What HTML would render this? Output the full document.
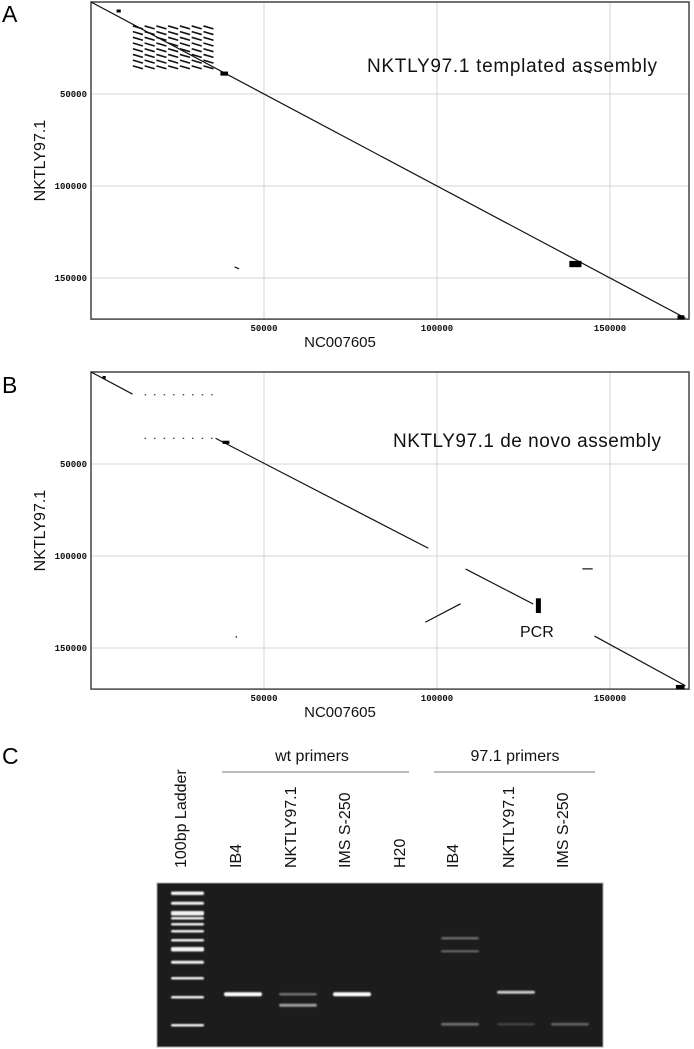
<!DOCTYPE html>
<html><head><meta charset="utf-8"><style>
body{margin:0;background:#fff;width:694px;height:1049px;overflow:hidden;font-family:"Liberation Sans",sans-serif}
svg{position:absolute;left:0;top:0}
.tick{font-family:"Liberation Mono",monospace;font-size:9px;font-weight:bold;fill:#111}
.lab{font-size:16px;fill:#111}
</style></head><body>
<svg id="s" width="694" height="1049">
<defs><filter id="blur" x="-20%" y="-100%" width="140%" height="300%"><feGaussianBlur stdDeviation="0.9"/></filter></defs>
<text x="2" y="22" font-size="23">A</text>
<text x="2" y="393" font-size="23">B</text>
<text x="2" y="764" font-size="23">C</text>
<g id="gA"></g>
<g id="gB"></g>
<text x="367" y="72" font-size="19" fill="#111" textLength="290">NKTLY97.1 templated assembly</text>
<text x="393" y="447" font-size="19" fill="#111" textLength="268">NKTLY97.1 de novo assembly</text>
<text x="520" y="637" font-size="16" fill="#111">PCR</text>
<g id="gC">
<text x="312" y="761" text-anchor="middle" class="lab">wt primers</text>
<line x1="222" y1="772" x2="409" y2="772" stroke="#777" stroke-width="1"/>
<text x="515" y="761" text-anchor="middle" class="lab">97.1 primers</text>
<line x1="434" y1="772" x2="595" y2="772" stroke="#777" stroke-width="1"/>
<rect x="157" y="883" width="446" height="164" fill="#1c1c1c" stroke="#aaa"/>
</g>
</svg>
<script>
// ---- data ----
const xTicks=[50000,100000,150000];
const yTicks=[50000,100000,150000];
const genomeLen=171800;
// panel A segments [x1,y1,x2,y2]
const segA=[[0,0,171800,171800]];
const hatchRowsY=[13000,16100,19200,22300,25400,28500,31600,34700];
const hatchColsX=[12100,15500,18900,22300,25700,29100,32500];
const blobsA=[[8000,4500,1200,800],[38500,38500,2200,1400],[140000,142000,3500,2600],[170500,171000,2000,1500]];
const smallA=[[41500,144000,42800,145000],[143000,37500,144500,38500]];
// panel B segments
const segB=[[0,0,12000,12000],[36000,36000,97500,95800],[108300,107100,127800,126100],[106800,126000,96600,136000],[142000,107000,145000,107000],[145500,143500,171800,170500],[41800,143800,42200,144200]];
const dotRowsB=[12300,36000];
const dotColsB=[15500,18200,21000,23700,26500,29200,32000,34700];
const pcrBar=[129300,123000,131000];
const blobsB=[[170300,170800,2500,1500],[39000,37800,2000,900],[3800,2500,900,700]];
// gel
const ladderY=[893,903,913,918,924,931,940,949,962,978,997,1025];
const ladderW=[3,2.5,4,2,2,2,2,4,2.5,2,2,2];
const laneX=[188,243,298,352,407,460,516,570];
const laneNames=["100bp Ladder","IB4","NKTLY97.1","IMS S-250","H20","IB4","NKTLY97.1","IMS S-250"];
const bands=[[1,994,1,3.5],[2,994,0.35,2],[2,1005,0.55,2.5],[3,994,1,3.5],[6,992,0.75,2.5],[5,938,0.3,2],[5,951,0.25,2],[5,1024,0.3,2.5],[7,1024,0.25,2.5],[6,1024,0.12,2]];
// ---- drawing ----
const NS="http://www.w3.org/2000/svg";
function el(p,t,a){const e=document.createElementNS(NS,t);for(const k in a)e.setAttribute(k,a[k]);p.appendChild(e);return e;}
function panel(g,top,name){
  const X=v=>91+v*0.00346, Y=v=>top+v*0.00184;
  const bottom=Y(genomeLen)+1;
  xTicks.forEach(t=>{const l=el(g,'line',{x1:X(t),x2:X(t),y1:top,y2:bottom,stroke:'#d4d4d4'});
    
    const tx=el(g,'text',{x:X(t),y:bottom+12,'text-anchor':'middle',class:'tick'});tx.textContent=t;
    });
  yTicks.forEach(t=>{const l=el(g,'line',{x1:91,x2:689,y1:Y(t),y2:Y(t),stroke:'#d4d4d4'});
    
    const tx=el(g,'text',{x:87,y:Y(t)+3,'text-anchor':'end',class:'tick'});tx.textContent=t;
    });
  const r=el(g,'rect',{x:91,y:top,width:598,height:bottom-top,fill:'none',stroke:'#444','stroke-width':1.5});
  
  const xt=el(g,'text',{x:340,y:bottom+28,'text-anchor':'middle','font-size':15,fill:'#111'});xt.textContent='NC007605';
  
  const cy=(top+bottom)/2;
  const yt=el(g,'text',{x:40,y:cy,'text-anchor':'middle','font-size':16,fill:'#111',transform:`rotate(-90 40 ${cy}) translate(0 5)`});yt.textContent='NKTLY97.1';
  
  return [X,Y];
}
function seg(g,X,Y,s,w){const l=el(g,'line',{x1:X(s[0]),y1:Y(s[1]),x2:X(s[2]),y2:Y(s[3]),stroke:'#111','stroke-width':w});
  }
function blob(g,X,Y,b){const r=el(g,'rect',{x:X(b[0]-b[2]/2),y:Y(b[1]-b[3]/2),width:b[2]*0.00346,height:b[3]*0.00184+1.5,fill:'#000'});
  }
const gA=document.getElementById('gA');
let [XA,YA]=panel(gA,2,'templated');
segA.forEach(s=>seg(gA,XA,YA,s,1.2));
hatchRowsY.forEach(y=>hatchColsX.forEach(x=>seg(gA,XA,YA,[x,y,x+2900,y+1600],1.6)));
smallA.forEach(s=>seg(gA,XA,YA,s,1.2));
blobsA.forEach(b=>blob(gA,XA,YA,b));
const gB=document.getElementById('gB');
let [XB,YB]=panel(gB,372,'denovo');
segB.forEach(s=>seg(gB,XB,YB,s,1.2));
dotRowsB.forEach(y=>dotColsB.forEach(x=>{const c=el(gB,'rect',{x:XB(x),y:YB(y)-0.5,width:1.5,height:1.2,fill:'#333'});
  }));
blobsB.forEach(b=>blob(gB,XB,YB,b));
const pb=el(gB,'rect',{x:XB(pcrBar[0])-2.5,y:YB(pcrBar[1]),width:5,height:YB(pcrBar[2])-YB(pcrBar[1]),fill:'#000'});

const gC=document.getElementById('gC');
laneNames.forEach((n,i)=>{const x=laneX[i]-2;const t=el(gC,'text',{x:x,y:868,class:'lab','font-size':17,transform:`rotate(-90 ${x} 868)`});
  t.textContent=n;});
ladderY.forEach((y,i)=>{const r=el(gC,'rect',{x:171,y:y-ladderW[i]/2,width:33,height:ladderW[i]+0.5,rx:1.5,fill:'#f2f2f2',filter:'url(#blur)'});
  });
bands.forEach(b=>{const cx=laneX[b[0]];const v=Math.round(40+b[2]*215);
  const r=el(gC,'rect',{x:cx-19,y:b[1]-b[3]/2,width:38,height:b[3]+0.5,rx:2,fill:`rgb(${v},${v},${v})`,filter:'url(#blur)'});
  });
</script>
</body></html>
